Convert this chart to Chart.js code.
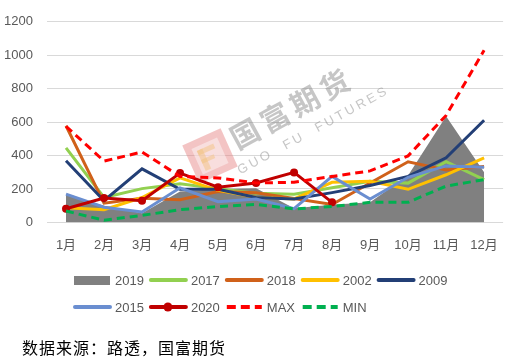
<!DOCTYPE html>
<html>
<head>
<meta charset="utf-8">
<script src="https://cdn.jsdelivr.net/npm/chart.js@4.4.1/dist/chart.umd.min.js"></script>
<style>
  html, body { margin: 0; padding: 0; background: #fff; }
</style>
</head>
<body>
<canvas id="chart" width="513" height="361"></canvas>
<script>
const months = ["1月", "2月", "3月", "4月", "5月", "6月", "7月", "8月", "9月", "10月", "11月", "12月"]
const yTicks = [0, 200, 400, 600, 800, 1000, 1200]

const y2019 = [165, 100, 55, 185, 200, 205, 85, 105, 120, 280, 635, 300]
const y2017 = [446, 149, 202, 231, 202, 175, 169, 207, 246, 235, 363, 256]
const y2018 = [578, 115, 145, 135, 185, 178, 143, 107, 236, 363, 314, 334]
const y2002 = [87, 76, 149, 266, 192, 150, 140, 240, 246, 198, 285, 386]
const y2009 = [369, 130, 320, 198, 198, 149, 140, 178, 221, 275, 386, 611]
const y2015 = [169, 91, 62, 207, 124, 140, 82, 275, 140, 270, 338, 330]
const y2020 = [82, 146, 130, 295, 211, 236, 299, 120, null, null, null, null]
const yMax = [575, 367, 421, 275, 266, 236, 240, 275, 308, 398, 640, 1030]
const yMin = [68, 13, 42, 76, 95, 107, 81, 95, 120, 120, 217, 256]

const FONT = '"Liberation Sans", Arial, "Noto Sans CJK SC", sans-serif'
const TEXT = "#595959"

function line(label, data, color, order, extra) {
  return Object.assign({
    label: label,
    data: data,
    borderColor: color,
    backgroundColor: color,
    borderWidth: 3,
    pointRadius: 0,
    tension: 0,
    fill: false,
    order: order
  }, extra || {})
}

const datasets = [
  {
    label: "2019",
    data: y2019,
    fill: "origin",
    backgroundColor: "#808080",
    borderColor: "#808080",
    borderWidth: 0,
    pointRadius: 0,
    order: 9
  },
  line("2017", y2017, "#92D050", 8),
  line("2018", y2018, "#D0611A", 7),
  line("2002", y2002, "#FFC000", 6),
  line("2009", y2009, "#233F76", 5),
  line("2015", y2015, "#6A8ED0", 4),
  line("2020", y2020, "#C00000", 3, { pointRadius: 4, pointBackgroundColor: "#C00000", pointBorderWidth: 0 }),
  line("MAX", yMax, "#FF0000", 2, { borderDash: [8, 5] }),
  line("MIN", yMin, "#00B050", 1, { borderDash: [8, 5] })
]

// faint company watermark behind the series
const watermark = {
  id: "watermark",
  beforeDatasetsDraw(chart) {
    const ctx = chart.ctx
    ctx.save()
    ctx.globalAlpha = 0.45
    ctx.translate(210, 156)
    ctx.rotate(-0.42)
    ctx.fillStyle = "#E57C7C"
    ctx.fillRect(-21, -21, 42, 42)
    ctx.fillStyle = "#fff"
    ctx.fillRect(-14, -14, 28, 28)
    ctx.fillStyle = "#F2C27A"
    ctx.fillRect(-10, -10, 6, 22)
    ctx.fillRect(-10, -10, 18, 5)
    ctx.fillRect(-10, 0, 14, 4)
    ctx.restore()

    ctx.save()
    ctx.globalAlpha = 0.45
    ctx.translate(292, 108)
    ctx.rotate(-0.5)
    ctx.fillStyle = "#808080"
    ctx.textAlign = "center"
    ctx.textBaseline = "middle"
    ctx.font = 'bold 29px "Noto Sans CJK SC"'
    ctx.letterSpacing = "5px"
    ctx.fillText("国富期货", 0, 0)
    ctx.font = '13px ' + FONT
    ctx.letterSpacing = "3px"
    ctx.fillText("GUO  FU  FUTURES", 8, 30)
    ctx.restore()
  }
}

// two-row legend laid out in fixed columns, plus the source note
const gridLegend = {
  id: "gridLegend",
  afterDraw(chart) {
    const ctx = chart.ctx
    chart.data.datasets.forEach((ds, i) => {
      const row = i < 5 ? 0 : 1
      const col = row ? i - 5 : i
      const x = 74 + col * 75.9
      const y = row ? 307 : 280
      ctx.save()
      if (ds.fill) {
        ctx.fillStyle = ds.backgroundColor
        ctx.fillRect(x, y - 4, 36, 9)
      } else {
        ctx.strokeStyle = ds.borderColor
        ctx.lineWidth = 4
        ctx.lineCap = ds.borderDash ? "butt" : "round"
        ctx.setLineDash(ds.borderDash ? [9, 5] : [])
        ctx.beginPath()
        ctx.moveTo(x + 1, y)
        ctx.lineTo(x + 36, y)
        ctx.stroke()
        if (ds.pointRadius) {
          ctx.fillStyle = ds.borderColor
          ctx.beginPath()
          ctx.arc(x + 18, y, 4.5, 0, Math.PI * 2)
          ctx.fill()
        }
      }
      ctx.fillStyle = TEXT
      ctx.font = "13px " + FONT
      ctx.textBaseline = "middle"
      ctx.fillText(ds.label, x + 41, y + 1)
      ctx.restore()
    })

    ctx.save()
    ctx.fillStyle = "#000"
    ctx.font = '16px "Noto Sans CJK SC"'
    ctx.letterSpacing = "1px"
    ctx.textBaseline = "middle"
    ctx.fillText("数据来源：路透，国富期货", 22, 348)
    ctx.restore()
  }
}

new Chart(document.getElementById("chart"), {
  type: "line",
  data: { labels: months, datasets: datasets },
  plugins: [watermark, gridLegend],
  options: {
    responsive: false,
    animation: false,
    layout: { padding: { left: 0, right: 4, top: 15, bottom: 93 } },
    plugins: {
      legend: { display: false },
      tooltip: { enabled: false }
    },
    scales: {
      x: {
        offset: true,
        grid: { display: false, drawTicks: false },
        border: { display: false },
        ticks: { color: TEXT, font: { family: FONT, size: 13 }, padding: 15, maxRotation: 0, autoSkip: false }
      },
      y: {
        min: 0,
        max: 1200,
        afterBuildTicks(axis) { axis.ticks = yTicks.map(v => ({ value: v })) },
        afterFit(axis) { axis.width = 47 },
        grid: { color: "#D9D9D9", lineWidth: 1, drawTicks: false },
        border: { display: false },
        ticks: { color: TEXT, font: { family: FONT, size: 13 }, padding: 14, callback: v => String(v) }
      }
    }
  }
})
</script>
</body>
</html>
